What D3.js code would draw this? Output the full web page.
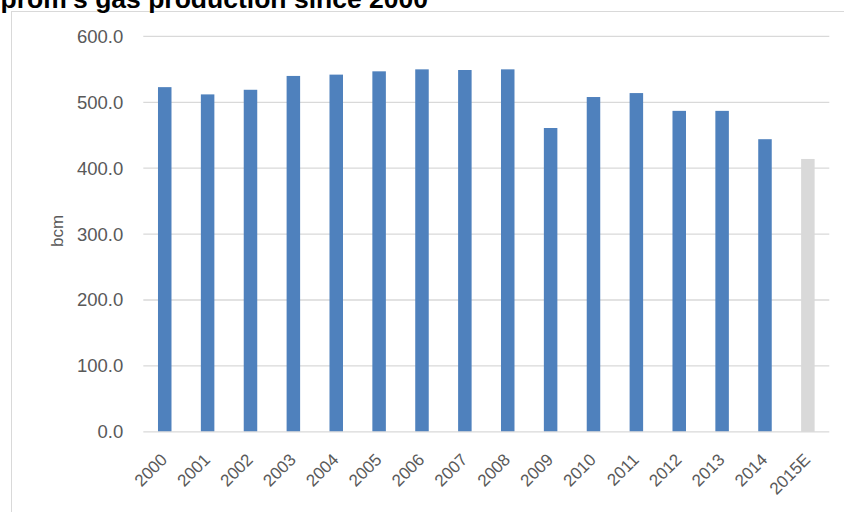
<!DOCTYPE html>
<html>
<head>
<meta charset="utf-8">
<script src="https://cdn.jsdelivr.net/npm/d3@7/dist/d3.min.js"></script>
<style>
  html, body { margin: 0; padding: 0; background: #fff; overflow: hidden; }
  svg { display: block; }
</style>
</head>
<body>
<svg id="chart" width="844" height="512"></svg>
<script>
const title = "Gazprom's gas production since 2000";
const yAxisLabel = "bcm";
const years = ["2000","2001","2002","2003","2004","2005","2006","2007","2008","2009","2010","2011","2012","2013","2014","2015E"];
const production = [523, 512, 519, 540, 542, 547, 550, 549, 550, 461, 508, 514, 487, 487, 444, 414];
const estimated = [false,false,false,false,false,false,false,false,false,false,false,false,false,false,false,true];
const yTicks = [0, 100, 200, 300, 400, 500, 600];

const svg = d3.select("#chart");
const W = 844, H = 512;
const plot = { left: 143.3, right: 829.3, top: 36.4, bottom: 431.8 };

// chart frame
svg.append("rect")
  .attr("x", 11.5).attr("y", 11.5)
  .attr("width", W + 20).attr("height", H + 20)
  .attr("fill", "none").attr("stroke", "#d9d9d9").attr("stroke-width", 1);

// title (cut off at the top-left as in the reference)
svg.append("text")
  .attr("x", 428).attr("y", 8)
  .attr("text-anchor", "end")
  .attr("font-family", "Liberation Sans, Arial, sans-serif")
  .attr("font-weight", "bold")
  .attr("font-size", 26.5)
  .attr("fill", "#000")
  .text(title);

const x = d3.scaleBand()
  .domain(years)
  .range([plot.left, plot.right])
  .paddingInner(0.685)
  .paddingOuter(0.3425);

const y = d3.scaleLinear()
  .domain([0, 600])
  .range([plot.bottom, plot.top]);

// gridlines
svg.append("g")
  .selectAll("line")
  .data(yTicks.filter(d => d !== 0))
  .join("line")
  .attr("x1", plot.left).attr("x2", plot.right)
  .attr("y1", d => y(d)).attr("y2", d => y(d))
  .attr("stroke", "#d9d9d9").attr("stroke-width", 1.3);

// y axis labels
const yAxis = d3.axisLeft(y).tickValues(yTicks).tickFormat(d3.format(".1f")).tickSize(0).tickPadding(20);
const gy = svg.append("g").attr("transform", `translate(${plot.left},0)`).call(yAxis);
gy.select(".domain").remove();
gy.selectAll("text")
  .attr("font-family", "Liberation Sans, Arial, sans-serif")
  .attr("font-size", 18.5)
  .attr("fill", "#595959");

// bars
svg.append("g")
  .selectAll("rect")
  .data(years.map((d, i) => ({ year: d, value: production[i], est: estimated[i] })))
  .join("rect")
  .attr("x", d => x(d.year))
  .attr("y", d => y(d.value))
  .attr("width", x.bandwidth())
  .attr("height", d => y(0) - y(d.value))
  .attr("fill", d => d.est ? "#d9d9d9" : "#4f81bd");

// x axis baseline
svg.append("line")
  .attr("x1", plot.left).attr("x2", plot.right)
  .attr("y1", y(0)).attr("y2", y(0))
  .attr("stroke", "#d9d9d9").attr("stroke-width", 1.3);

// x axis labels
const xAxis = d3.axisBottom(x).tickSize(0).tickPadding(0);
const gx = svg.append("g").attr("transform", `translate(0,${y(0)})`).call(xAxis);
gx.select(".domain").remove();
gx.selectAll("text")
  .attr("font-family", "Liberation Sans, Arial, sans-serif")
  .attr("font-size", 17)
  .attr("fill", "#595959")
  .attr("text-anchor", "end")
  .attr("y", 0)
  .attr("dy", null)
  .attr("transform", "translate(3.5,29) rotate(-45)");

// y axis title
svg.append("text")
  .attr("transform", "translate(62.5,231) rotate(-90)")
  .attr("text-anchor", "middle")
  .attr("font-family", "Liberation Sans, Arial, sans-serif")
  .attr("font-size", 17)
  .attr("fill", "#595959")
  .text(yAxisLabel);
</script>
</body>
</html>
